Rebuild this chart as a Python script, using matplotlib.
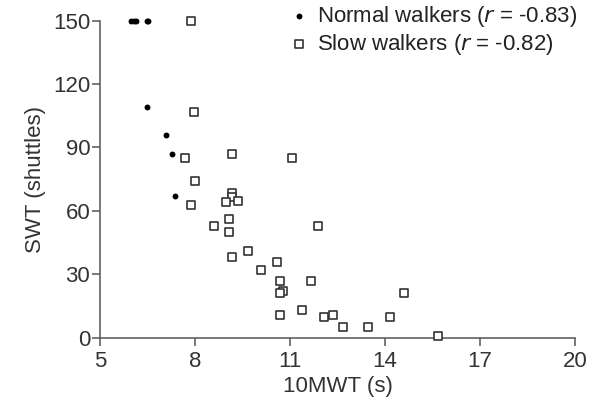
import matplotlib.pyplot as plt

plt.rcParams['font.family'] = ['Liberation Sans', 'DejaVu Sans']

# Normal walkers (filled dots)
normal_x = [5.98, 6.07, 6.15, 6.48, 6.53, 6.47, 7.07, 7.27, 7.38]
normal_y = [150, 150, 150, 150, 150, 109, 96, 87, 67]

# Slow walkers (open squares)
slow_x = [7.87, 7.98, 7.68, 9.18, 11.07, 7.99, 9.16, 9.18, 8.97, 9.35,
          7.87, 9.09, 8.59, 9.09, 9.69, 9.18, 10.59, 10.08, 10.68, 10.79,
          10.68, 10.67, 11.87, 11.68, 14.59, 11.37, 12.08, 12.37, 14.17,
          12.67, 13.48, 15.68]
slow_y = [150, 107, 85, 87, 85, 74, 68.5, 66.5, 64, 64.8,
          63, 56, 53, 50, 41, 38, 36, 32, 27, 22,
          21, 11, 53, 27, 21, 13, 10, 11, 10,
          5, 5, 1]

x_ticks = [5, 8, 11, 14, 17, 20]
y_ticks = [0, 30, 60, 90, 120, 150]

fig = plt.figure(figsize=(5.97, 4.12), dpi=100)
ax = fig.add_axes([0.1675, 0.18, 0.7955, 0.77])

ink = '#333333'
ax.scatter(normal_x, normal_y, s=18, color='black', marker='o',
           linewidths=0, clip_on=False, zorder=3,
           label='Normal walkers ($r$ = -0.83)')
ax.scatter(slow_x, slow_y, s=26, marker='s', facecolors='white',
           edgecolors=ink, linewidths=1.2, clip_on=False, zorder=3,
           label='Slow walkers ($r$ = -0.82)')

ax.set_xlim(5, 20)
ax.set_ylim(0, 150)
ax.set_xticks(x_ticks)
ax.set_yticks(y_ticks)
for side in ['top', 'right']:
    ax.spines[side].set_visible(False)
for side in ['left', 'bottom']:
    ax.spines[side].set_color('#555555')
    ax.spines[side].set_linewidth(1.1)
ax.tick_params(colors='#555555', width=1.1, length=6, labelsize=16,
               labelcolor='#333333')
ax.tick_params(axis='x', pad=3.5)
ax.tick_params(axis='y', pad=1)

ax.set_xlabel('10MWT (s)', fontsize=16, color='#333333', labelpad=3)
ax.set_ylabel('SWT (shuttles)', fontsize=16, color='#333333', labelpad=5)

leg = fig.legend(handles=ax.collections, loc='upper left',
                 bbox_to_anchor=(0.482, 0.99), frameon=False,
                 fontsize=16, handletextpad=0.3, labelspacing=0.12,
                 handlelength=1.0, borderpad=0, borderaxespad=0)
for t in leg.get_texts():
    t.set_color('#222222')

fig.savefig('out.png', dpi=100)
